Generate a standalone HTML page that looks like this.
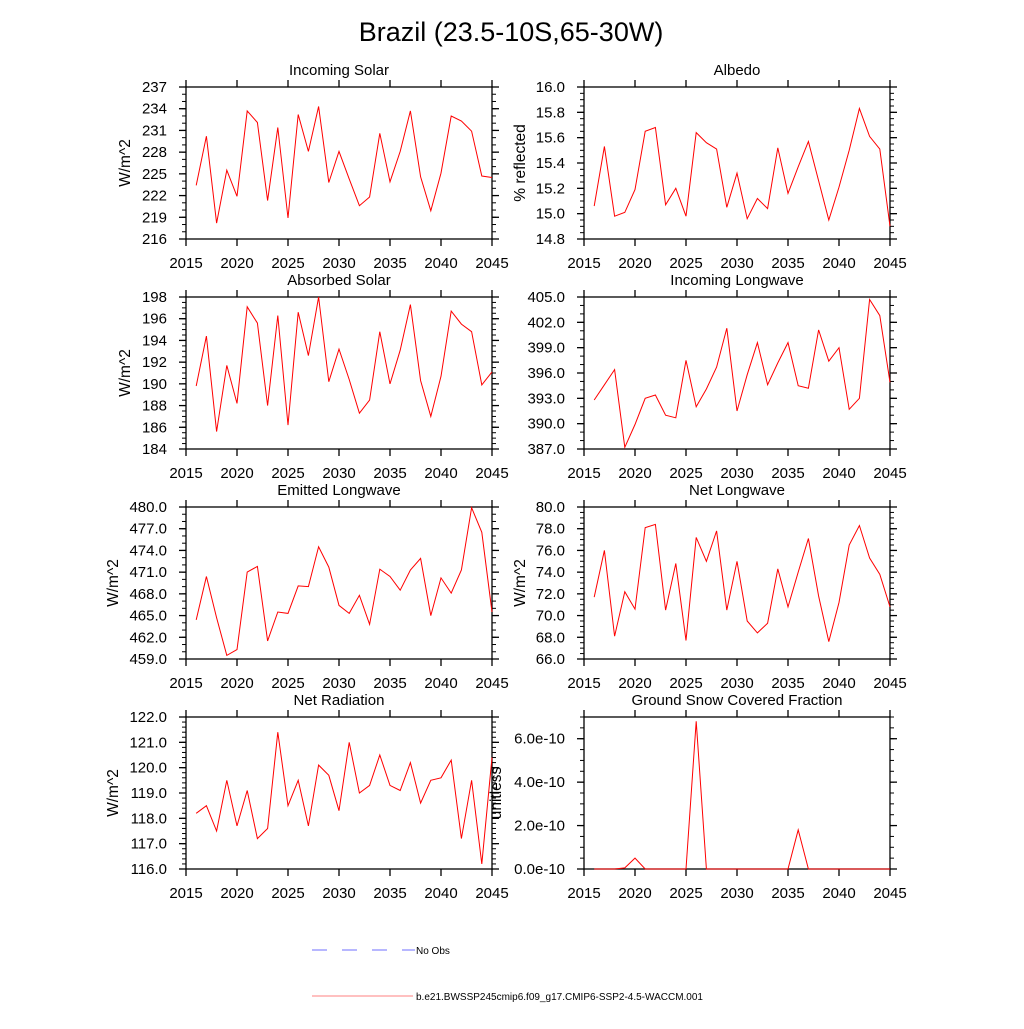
<!DOCTYPE html>
<html><head><meta charset="utf-8"><style>
html,body{margin:0;padding:0;background:#fff;}
svg text{font-family:"Liberation Sans",sans-serif;fill:#000;}
</style></head><body>
<svg id="fig" width="1024" height="1024" viewBox="0 0 1024 1024" xmlns="http://www.w3.org/2000/svg">
<text x="511" y="41" font-size="27" text-anchor="middle">Brazil (23.5-10S,65-30W)</text>
<g id="panels"></g>
<g>
<line x1="312" y1="950" x2="415" y2="950" stroke="#6f6fff" stroke-width="1" stroke-dasharray="15,15"/>
<text x="416" y="954" font-size="10">No Obs</text>
<line x1="312" y1="996" x2="413" y2="996" stroke="#ff8080" stroke-width="1"/>
<text x="416" y="1000" font-size="10">b.e21.BWSSP245cmip6.f09_g17.CMIP6-SSP2-4.5-WACCM.001</text>
</g>
</svg>
<script>
const years = [2016,2017,2018,2019,2020,2021,2022,2023,2024,2025,2026,2027,2028,2029,2030,2031,2032,2033,2034,2035,2036,2037,2038,2039,2040,2041,2042,2043,2044,2045];
const xTicks = [2015,2020,2025,2030,2035,2040,2045];
const incomingSolar = [223.4,230.2,218.2,225.5,221.9,233.7,232.1,221.3,231.4,218.9,233.2,228.1,234.3,223.8,228.1,224.3,220.6,221.8,230.6,223.9,228.1,233.7,224.6,219.9,225.1,233.0,232.3,230.9,224.7,224.5];
const albedo = [15.06,15.53,14.98,15.01,15.19,15.65,15.68,15.07,15.20,14.98,15.64,15.56,15.51,15.05,15.32,14.96,15.12,15.04,15.52,15.16,15.37,15.57,15.26,14.95,15.21,15.50,15.83,15.61,15.51,14.90];
const absorbedSolar = [189.8,194.4,185.6,191.7,188.2,197.1,195.6,188.0,196.3,186.2,196.6,192.6,198.0,190.2,193.2,190.4,187.3,188.5,194.8,190.0,193.1,197.3,190.3,187.0,190.7,196.7,195.5,194.8,189.9,191.1];
const incomingLW = [392.8,394.6,396.4,387.2,389.9,393.0,393.4,391.0,390.7,397.5,392.0,394.1,396.7,401.3,391.5,395.8,399.6,394.6,397.2,399.6,394.5,394.2,401.1,397.4,399.0,391.7,393.0,404.7,402.8,394.9];
const emittedLW = [464.4,470.4,464.7,459.5,460.3,471.0,471.8,461.5,465.5,465.3,469.1,469.0,474.5,471.7,466.4,465.3,467.8,463.8,471.4,470.4,468.5,471.3,472.9,465.0,470.2,468.1,471.3,479.9,476.5,465.5];
const netLW = [71.7,76.0,68.1,72.2,70.6,78.1,78.4,70.5,74.8,67.7,77.2,75.0,77.8,70.5,75.0,69.5,68.4,69.3,74.3,70.8,74.0,77.1,71.8,67.6,71.2,76.5,78.3,75.3,73.8,70.8];
const netRad = [118.2,118.5,117.5,119.5,117.7,119.1,117.2,117.6,121.4,118.5,119.5,117.7,120.1,119.7,118.3,121.0,119.0,119.3,120.5,119.3,119.1,120.2,118.6,119.5,119.6,120.3,117.2,119.5,116.2,120.4];
const snowFrac = [0,0,0,0.05e-10,0.5e-10,0,0,0,0,0,6.8e-10,0,0,0,0,0,0,0,0,0,1.8e-10,0,0,0,0,0,0,0,0,0];
const ticks1 = ["216","219","222","225","228","231","234","237"];
const ticks2 = ["14.8","15.0","15.2","15.4","15.6","15.8","16.0"];
const ticks3 = ["184","186","188","190","192","194","196","198"];
const ticks4 = ["387.0","390.0","393.0","396.0","399.0","402.0","405.0"];
const ticks5 = ["459.0","462.0","465.0","468.0","471.0","474.0","477.0","480.0"];
const ticks6 = ["66.0","68.0","70.0","72.0","74.0","76.0","78.0","80.0"];
const ticks7 = ["116.0","117.0","118.0","119.0","120.0","121.0","122.0"];
const ticks8 = ["0.0e-10","2.0e-10","4.0e-10","6.0e-10"];

const NS = "http://www.w3.org/2000/svg";
const root = document.getElementById('panels');
function mk(tag, attrs, parent){const e=document.createElementNS(NS,tag);for(const k in attrs)e.setAttribute(k,attrs[k]);parent.appendChild(e);return e;}

const panels = [
 {name:'incoming-solar',title:'Incoming Solar',data:incomingSolar,ticks:ticks1,ymin:216,ymax:237,minor:1,L:186,T:87,yl:'W/m^2',ylx:125},
 {name:'albedo',title:'Albedo',data:albedo,ticks:ticks2,ymin:14.8,ymax:16.0,minor:0.05,L:584,T:87,yl:'% reflected',ylx:520},
 {name:'absorbed-solar',title:'Absorbed Solar',data:absorbedSolar,ticks:ticks3,ymin:184,ymax:198,minor:0.5,L:186,T:297,yl:'W/m^2',ylx:125},
 {name:'incoming-longwave',title:'Incoming Longwave',data:incomingLW,ticks:ticks4,ymin:387,ymax:405,minor:1,L:584,T:297,yl:'',ylx:0},
 {name:'emitted-longwave',title:'Emitted Longwave',data:emittedLW,ticks:ticks5,ymin:459,ymax:480,minor:1,L:186,T:507,yl:'W/m^2',ylx:113},
 {name:'net-longwave',title:'Net Longwave',data:netLW,ticks:ticks6,ymin:66,ymax:80,minor:0.5,L:584,T:507,yl:'W/m^2',ylx:520},
 {name:'net-radiation',title:'Net Radiation',data:netRad,ticks:ticks7,ymin:116,ymax:122,minor:0.2,L:186,T:717,yl:'W/m^2',ylx:113},
 {name:'ground-snow-covered-fraction',title:'Ground Snow Covered Fraction',data:snowFrac,ticks:ticks8,ymin:0,ymax:7e-10,minor:0.5e-10,L:584,T:717,yl:'unitless',ylx:496}
];
const W=306,H=152;
panels.forEach(p=>{
  const g=mk('g',{},root);
  
  
  const L=p.L,T=p.T,R=L+W,B=T+H;
  const xs=v=>L+(v-2015)/30*W;
  const ys=v=>B-(v-p.ymin)/(p.ymax-p.ymin)*H;
  const step=p.minor;
  const nMin=Math.round((p.ymax-p.ymin)/step);
  for(let i=0;i<=nMin;i++){
    const y=B-i/nMin*H;
    const m1=mk('line',{x1:L-4,x2:L,y1:y,y2:y,stroke:'#000','stroke-width':1},g);
    
    
    const m2=mk('line',{x1:R,x2:R+4,y1:y,y2:y,stroke:'#000','stroke-width':1},g);
    
    
  }
  p.ticks.forEach((lab,i)=>{
    const val=parseFloat(lab);
    const y=ys(val);
    const t1=mk('line',{x1:L-7,x2:L,y1:y,y2:y,stroke:'#000','stroke-width':1.3},g);
    
    
    const t2=mk('line',{x1:R,x2:R+7,y1:y,y2:y,stroke:'#000','stroke-width':1.3},g);
    
    
    const tx=mk('text',{x:L-19,y:y+5,'font-size':15,'text-anchor':'end'},g);
    
    
    tx.textContent=lab;
  });
  xTicks.forEach(v=>{
    const x=xs(v);
    const a=mk('line',{x1:x,x2:x,y1:B,y2:B+7,stroke:'#000','stroke-width':1.3},g);
    
    
    const b=mk('line',{x1:x,x2:x,y1:T-7,y2:T,stroke:'#000','stroke-width':1.3},g);
    
    
    const tx=mk('text',{x:x,y:B+29,'font-size':15,'text-anchor':'middle'},g);
    
    
    tx.textContent=String(v);
  });
  const fr=mk('rect',{x:L,y:T,width:W,height:H,fill:'none',stroke:'#000','stroke-width':1.3},g);
  
  
  const pts=p.data.map((v,i)=>xs(years[i]).toFixed(1)+','+ys(v).toFixed(1)).join(' ');
  const ln=mk('polyline',{points:pts,fill:'none',stroke:'#ff0000','stroke-width':1},g);
  
  
  const tt=mk('text',{x:L+W/2,y:T-12,'font-size':15,'text-anchor':'middle'},g);
  
  
  tt.textContent=p.title;
  if(p.yl){
    const yl=mk('text',{x:0,y:0,'font-size':15.5,'text-anchor':'middle',transform:'translate('+(p.ylx+5)+','+(T+H/2)+') rotate(-90)'},g);
    
    
    yl.textContent=p.yl;
  }
});
</script>
</body></html>
